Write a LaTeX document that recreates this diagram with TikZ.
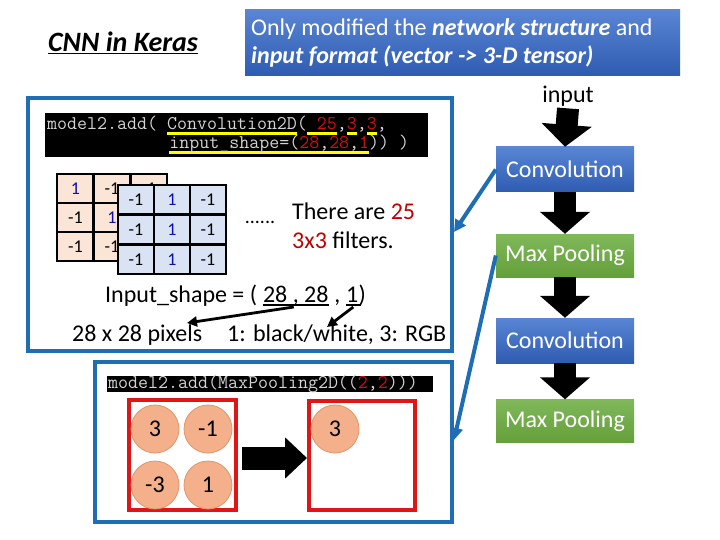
\documentclass[tikz,border=0pt]{standalone}
\usepackage{fontspec}
\setmainfont{Carlito}
\usetikzlibrary{arrows.meta,calc}
\definecolor{frameblue}{HTML}{1F6EB5}
\definecolor{hdrtop}{HTML}{5A85D5}
\definecolor{hdrbot}{HTML}{2E5CB0}
\definecolor{grtop}{HTML}{80B85A}
\definecolor{grbot}{HTML}{64A03A}
\definecolor{redfr}{HTML}{E01515}
\definecolor{circfill}{HTML}{F4B08A}
\definecolor{circedge}{HTML}{E0956A}
\definecolor{orcell}{HTML}{FBE5D6}
\definecolor{blcell}{HTML}{DAE3F3}
\definecolor{numblue}{HTML}{1010A8}
\definecolor{txtred}{HTML}{C00000}
\definecolor{codegray}{HTML}{D4D4D4}
\definecolor{codered}{HTML}{D01010}
\definecolor{codeyellow}{HTML}{FFFF00}
\newcommand\yu[1]{\setbox0\hbox{#1}\rlap{\color{codeyellow}\rule[-5pt]{\wd0}{3pt}}\box0}
\newcommand\rd[1]{\textcolor{codered}{#1}}
\tikzset{
  txt/.style={inner sep=0pt, font=\fontsize{24}{28}\selectfont},
  bframe/.style={draw=frameblue, line width=4pt, inner sep=0pt},
  flowblue/.style={minimum width=138pt, minimum height=45pt, inner sep=0pt, top color=hdrtop, bottom color=hdrbot, text=white, font=\fontsize{24}{28}\selectfont},
  flowgreen/.style={minimum width=138pt, minimum height=43pt, inner sep=0pt, top color=grtop, bottom color=grbot, text=white, font=\fontsize{24}{28}\selectfont},
  blockv/.style={line width=22pt, -{Triangle[length=22pt,width=49pt]}},
  blockh/.style={line width=23pt, -{Triangle[length=22pt,width=40pt]}},
  bluecon/.style={draw=frameblue, line width=4pt, -{Triangle[length=12pt,width=12pt]}},
  thinarrow/.style={line width=2.8pt, -{Triangle[length=10pt,width=10pt]}},
  ocell/.style={draw=black, line width=2.5pt, fill=orcell, minimum width=36.7pt, minimum height=29pt, inner sep=0pt, font=\fontsize{18}{20}\selectfont},
  bcell/.style={draw=black, line width=2.5pt, fill=blcell, minimum width=36pt, minimum height=29.7pt, inner sep=0pt, font=\fontsize{18}{20}\selectfont},
  redframe/.style={draw=redfr, line width=4pt, inner sep=0pt},
  circ/.style={circle, fill=circfill, draw=circedge, line width=0.8pt, minimum size=48pt, inner sep=0pt, font=\fontsize{24}{28}\selectfont},
  code/.style={inner sep=0pt, text=codegray, font=\ttfamily\addfontfeatures{FakeBold=1.6}\fontsize{19.4}{21}\selectfont},
}
\begin{document}
\begin{tikzpicture}[x=1pt,y=-1pt]
\useasboundingbox (0,0) rectangle (720,540);
% title
\node[txt, anchor=base west, font=\bfseries\itshape\fontsize{28}{32}\selectfont] (title) at (48,52) {\underline{CNN in Keras}};
% header
\node[minimum width=435pt, minimum height=66pt, inner sep=0pt, top color=hdrtop, bottom color=hdrbot] (hdr) at (462.5,43) {};
\node[txt, anchor=west, align=left, text=white, font=\fontsize{24}{28}\selectfont] (hdrtxt) at (251,43)
  {Only modified the \textbf{\textit{network structure}} and\\ \textbf{\textit{input format (vector -> 3-D tensor)}}};
% frames
\node[bframe, minimum width=424pt, minimum height=253pt] (box1) at (240,224.5) {};
\node[bframe, minimum width=357pt, minimum height=160pt] (box2) at (273.5,442) {};
% code 1
\node[fill=black, minimum width=383pt, minimum height=44pt, inner sep=0pt] (code1) at (236.5,135) {};
\node[code, anchor=base west] (cl1) at (47,130) {model2.add( \yu{Convolution2D}(\yu{ \rd{25}},\yu{\rd{3}},\yu{\rd{3}},};
\node[code, anchor=base west] (cl2) at (169.2,149) {\yu{input\_shape=(\rd{28},\rd{28},\rd{1}})) )};
% matrices
\foreach \r/\a/\b/\c in {1/{\textcolor{numblue}{1}}/-1/-1, 2/-1/{\textcolor{numblue}{1}}/-1, 3/-1/-1/{\textcolor{numblue}{1}}}{
  \node[ocell] (o\r1) at (57+18.35, 174+14.5+29*\r-29) {\a};
  \node[ocell] (o\r2) at (57+18.35+36.7, 174+14.5+29*\r-29) {\b};
  \node[ocell] (o\r3) at (57+18.35+73.4, 174+14.5+29*\r-29) {\c};
}
\foreach \r in {1,2,3}{
  \node[bcell] (b\r1) at (118+18, 185+14.85+29.7*\r-29.7) {-1};
  \node[bcell] (b\r2) at (118+54, 185+14.85+29.7*\r-29.7) {\textcolor{numblue}{1}};
  \node[bcell] (b\r3) at (118+90, 185+14.85+29.7*\r-29.7) {-1};
}
\node[txt, font=\fontsize{20}{24}\selectfont] (dots) at (260,222) {......};
\node[txt, anchor=base west] (there1) at (292,220) {There are \textcolor{txtred}{25}};
\node[txt, anchor=base west] (there2) at (292,248) {\textcolor{txtred}{3x3} filters.};
% input shape
\node[txt, anchor=base west] (s1) at (105,302) {Input\_shape = (~\null};
\node[txt, anchor=base west] (s2) at (s1.base east) {28 , 28};
\node[txt, anchor=base west] (s3) at (s2.base east) {~,~\null};
\node[txt, anchor=base west] (s4) at (s3.base east) {1};
\node[txt, anchor=base west] (s5) at (s4.base east) {)};
\draw[line width=2.5pt] ($(s2.base west)+(0,3)$) -- ($(s2.base east)+(0,3)$);
\draw[line width=2.5pt] ($(s4.base west)+(0,3)$) -- ($(s4.base east)+(2,3)$);
\node[txt, anchor=base west] (pix) at (72,341) {28 x 28 pixels};
\node[txt, anchor=base west] (bw) at (227,341) {1: black/white, 3: RGB};
\coordinate (t1) at (187,323);
\coordinate (t2) at (327,327);
\draw[thinarrow] ($(s2.base)+(-2,5)$) -- (t1);
\draw[thinarrow] ($(s4.base)+(1,5)$) -- (t2);
% code 2
\node[fill=black, minimum width=326pt, minimum height=16pt, inner sep=0pt] (code2) at (270,383.5) {};
\node[code, anchor=base west] (cl3) at (108,388) {model2.add(MaxPooling2D((\rd{2},\rd{2})))};
% pooling
\node[redframe, minimum width=107pt, minimum height=110pt] (redL) at (182.5,455) {};
\node[redframe, minimum width=106pt, minimum height=109pt] (redR) at (362,455.5) {};
\node[circ] (p11) at (155,429) {3};
\node[circ] (p12) at (208,429) {-1};
\node[circ] (p21) at (155,485) {-3};
\node[circ] (p22) at (208,485) {1};
\node[circ] (q11) at (335,429) {3};
\draw[blockh, shorten <=4pt, shorten >=0pt] (redL.east |- 0,458) -- (redR.west |- 0,458);
% flow
\node[txt] (inp) at (568,96) {input};
\node[flowblue] (conv1) at (565,169.5) {Convolution};
\node[flowgreen] (pool1) at (565,255.5) {Max Pooling};
\node[flowblue] (conv2) at (565,340.5) {Convolution};
\node[flowgreen] (pool2) at (565,421) {Max Pooling};
\draw[blockv] (inp.south) ++(0,2) coordinate (ia) -- (conv1.north);
\draw[blockv] (conv1.south) -- (pool1.north);
\draw[blockv] (pool1.south) -- (conv2.north);
\draw[blockv] (conv2.south) -- (pool2.north);
% blue connectors
\coordinate (e1) at (454,232);
\coordinate (e2) at (454,440);
\draw[bluecon] (conv1.west) -- (e1);
\draw[bluecon] (pool1.west) -- (e2);
\end{tikzpicture}
\end{document}
